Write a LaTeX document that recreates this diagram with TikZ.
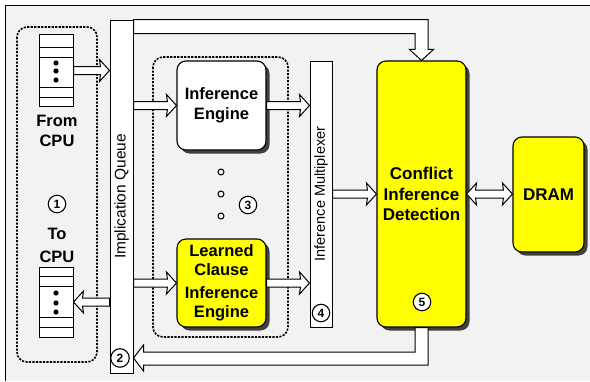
\documentclass[tikz,border=0pt]{standalone}
\usepackage{fontspec}
\setmainfont{Liberation Sans}
\usetikzlibrary{calc,shadows}
\definecolor{panel}{HTML}{F2F2F2}
\definecolor{chip}{HTML}{FFFF00}
\tikzset{
  unit/.style={draw, line width=1.1pt, rounded corners=9pt, align=center,
    font=\fontsize{16.5}{19.5}\selectfont\bfseries,
    drop shadow={shadow xshift=3.5pt, shadow yshift=-3.5pt, fill=black!75, opacity=1}},
  bar/.style={draw, line width=1pt, fill=white, inner sep=0pt},
  queue/.style={draw, line width=1pt, fill=white, inner sep=0pt,
    minimum width=34pt, minimum height=72pt},
  group/.style={draw, line width=1.6pt, dash pattern=on 2.2pt off 1.3pt, rounded corners=10pt},
  num/.style={draw, circle, line width=1.1pt, fill=white, inner sep=0pt,
    minimum size=17.5pt, font=\fontsize{12}{12}\selectfont\bfseries},
  caption/.style={align=center, font=\fontsize{16.5}{20}\selectfont\bfseries},
  arr/.style={draw, line width=1pt, fill=white, line join=miter}
}
% horizontal block arrow from #2 to #3 (same height)
\newcommand\blockarrow[2]{%
  \path[arr] let \p1=#1, \p2=#2, \n1={sign(\x2-\x1)} in
    (\x1,\y1+4pt) -- (\x2-\n1*9pt,\y1+4pt) -- (\x2-\n1*10pt,\y1+11pt) -- (\x2,\y1)
    -- (\x2-\n1*10pt,\y1-11pt) -- (\x2-\n1*9pt,\y1-4pt) -- (\x1,\y1-4pt) -- cycle;}
\begin{document}
\begin{tikzpicture}[x=1pt,y=-1pt]
\useasboundingbox (0,0) rectangle (590,381);
\fill[panel] (5,5) rectangle (590,381);
\draw[line width=1pt] (5,381) -- (5,5) -- (590,5);

% groups
\draw[group] (17,27) rectangle (97,362);
\draw[group] (153,57) rectangle (288,337);

% CPU queues
\node[queue] (fromq) at (56,70.5) {};
\foreach \d in {13,23,53,63}
  \draw[line width=1pt] ([yshift=-\d pt]fromq.north west) -- ([yshift=-\d pt]fromq.north east);
\foreach \d in {63,71,80}
  \fill (56,\d) circle (2.6pt);
\node[caption] (fromlbl) at (57,131) {From\\CPU};

\node[num] (c1) at (57,204) {1};
\node[caption, font=\fontsize{16.5}{23}\selectfont\bfseries] (tolbl) at (57,245) {To\\CPU};

\node[queue, minimum height=70pt] (toq) at (56,302) {};
\foreach \d in {10,20,51,61}
  \draw[line width=1pt] ([yshift=-\d pt]toq.north west) -- ([yshift=-\d pt]toq.north east);
\foreach \d in {293,303,312}
  \fill (56,\d) circle (2.6pt);

% implication queue and multiplexer
\node[bar, minimum width=23pt, minimum height=353pt,
  label={[rotate=90, font=\fontsize{15.5}{15.5}\selectfont]center:Implication Queue}] (iq) at (121.5,196.5) {};
\node[bar, minimum width=22pt, minimum height=266pt,
  label={[rotate=90, font=\fontsize{14.5}{14.5}\selectfont]center:Inference Multiplexer}] (mux) at (321,194) {};

% engines
\node[unit, fill=white, minimum width=89pt, minimum height=89pt] (ie) at (221.5,105.5) {Inference\\Engine};
\node[unit, fill=chip, minimum width=89pt, minimum height=88pt] (lcie) at (221.5,283) {Learned\\Clause\\[3pt]Inference\\Engine};
\foreach \d in {172,194,216}
  \draw[line width=1pt] (221,\d) circle (3pt);
\node[num] (c3) at (248,205) {3};
\node[num] (c4) at (321,313) {4};

% conflict detection and DRAM
\node[unit, fill=chip, minimum width=89pt, minimum height=266pt,
  font=\fontsize{17}{20.5}\selectfont\bfseries] (cid) at (421.5,194) {Conflict\\Inference\\Detection};
\node[num] (c5) at (422,302) {5};
\node[unit, fill=chip, minimum width=71pt, minimum height=115pt,
  font=\fontsize{17}{20}\selectfont\bfseries] (dram) at (548.5,194.5) {DRAM};

\node[num, minimum size=18.5pt] (c2) at (120,358) {2};

% data paths
\blockarrow{(fromq.east)}{(iq.west|-fromq.east)}
\blockarrow{(iq.west|-toq.east)}{(toq.east)}
\blockarrow{(iq.east|-ie.west)}{(ie.west)}
\blockarrow{(ie.east)}{(mux.west|-ie.east)}
\blockarrow{(iq.east|-lcie.west)}{(lcie.west)}
\blockarrow{(lcie.east)}{(mux.west|-lcie.east)}
\blockarrow{(mux.east|-cid.west)}{(cid.west)}
\path[arr] let \p1=(cid.east), \p2=(dram.west) in
  (\x1,\y1) -- (\x1+10pt,\y1+11pt) -- (\x1+9pt,\y1+4pt) -- (\x2-9pt,\y1+4pt)
  -- (\x2-10pt,\y1+11pt) -- (\x2,\y1) -- (\x2-10pt,\y1-11pt) -- (\x2-9pt,\y1-4pt)
  -- (\x1+9pt,\y1-4pt) -- (\x1+10pt,\y1-11pt) -- cycle;
% queue to conflict detection
\path[arr] let \p1=(iq.north east), \p2=(cid.north) in
  (\x1,\y1) -- (\x2+6.5pt,\y1) -- (\x2+6.5pt,\y2+11pt) -- (\x2+12pt,\y2+11pt) -- (\x2,\y2)
  -- (\x2-12pt,\y2+11pt) -- (\x2-6.5pt,\y2+11pt) -- (\x2-6.5pt,\y1-14pt) -- (\x1,\y1-14pt) -- cycle;
% conflict detection back to queue
\path[arr] let \p1=(cid.south), \p2=(iq.east|-c2) in
  (\x1-6.5pt,\y1) -- (\x1+6.5pt,\y1) -- (\x1+6.5pt,\y2-7pt) -- (\x2+10pt,\y2-7pt) -- (\x2+10pt,\y2-13pt)
  -- (\x2,\y2) -- (\x2+10pt,\y2+13pt) -- (\x2+10pt,\y2+6pt) -- (\x1-6.5pt,\y2+6pt) -- cycle;
\end{tikzpicture}
\end{document}
